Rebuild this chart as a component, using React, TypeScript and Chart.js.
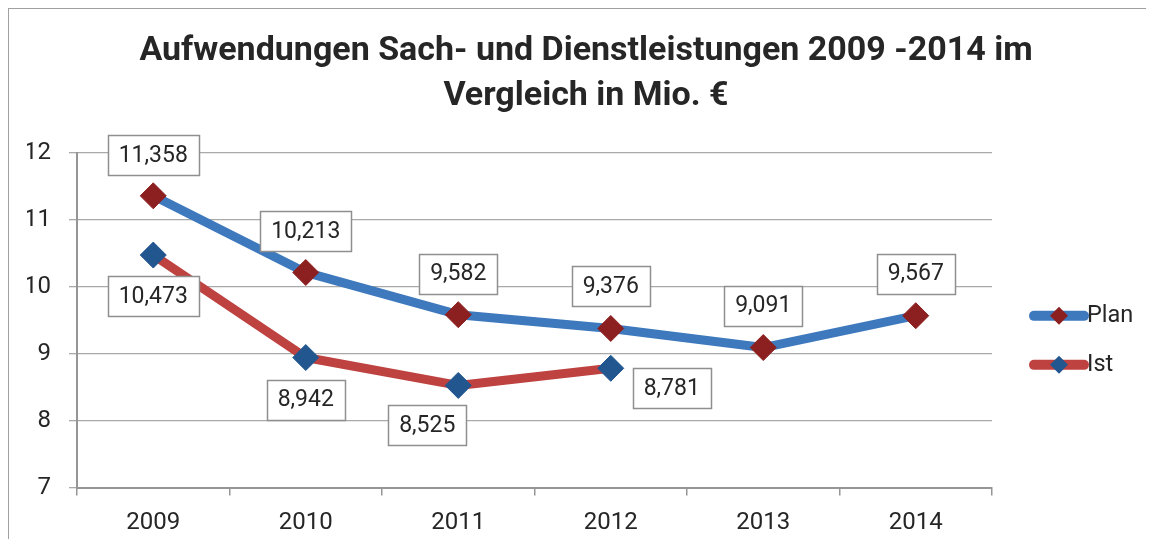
import React, { useEffect, useRef } from "react";
import { Chart, registerables } from "chart.js";

Chart.register(...registerables);

// ---- data ----
const categories = ["2009", "2010", "2011", "2012", "2013", "2014"];
const planValues = [11.358, 10.213, 9.582, 9.376, 9.091, 9.567];
const istValues: (number | null)[] = [10.473, 8.942, 8.525, 8.781, null, null];
const seriesNames = ["Plan", "Ist"];
const yMin = 7;
const yMax = 12;
const yStep = 1;
const titleLines = [
  "Aufwendungen Sach- und Dienstleistungen 2009 -2014 im",
  "Vergleich in Mio. €",
];

// ---- style ----
const FONT = "Roboto, 'Noto Sans', sans-serif";
const TEXT = "#262626";
const GRID = "#a9a9a9";
const AXIS = "#959595";
const PLAN_LINE = "#3e79be";
const PLAN_MARK = "#8c2020";
const IST_LINE = "#be4340";
const IST_MARK = "#22568f";
// label placement offsets (dx, dy) relative to the point
const planLabelOffsets = [[0, -41], [0, -41], [0, -41], [0, -42], [0, -42], [0, -42]];
const istLabelOffsets = [[0, 41], [0, 42], [-31, 40], [61, 20]];

const fmt = (v: number) => v.toFixed(3).replace(".", ",");

const boxLabels = {
  id: "boxLabels",
  afterDatasetsDraw(chart: any) {
    const ctx = chart.ctx as CanvasRenderingContext2D;
    ctx.save();
    ctx.font = `23px ${FONT}`;
    ctx.textAlign = "center";
    ctx.textBaseline = "middle";
    chart.data.datasets.forEach((ds: any, di: number) => {
      const meta = chart.getDatasetMeta(di);
      const offs = di === 0 ? planLabelOffsets : istLabelOffsets;
      meta.data.forEach((el: any, i: number) => {
        const v = ds.data[i];
        if (v == null || el.skip) return;
        const [dx, dy] = offs[i] || [0, di === 0 ? -41 : 41];
        const x = el.x + dx;
        const y = el.y + dy;
        const text = fmt(v);
        const w = Math.round(ctx.measureText(text).width + 22);
        const h = 40;
        const bx = Math.round(x - w / 2) + 0.5;
        const by = Math.round(y - h / 2) + 0.5;
        ctx.fillStyle = "#ffffff";
        ctx.fillRect(bx, by, w, h);
        ctx.strokeStyle = "#8f8f8f";
        ctx.lineWidth = 1.5;
        ctx.strokeRect(bx, by, w, h);
        ctx.fillStyle = TEXT;
        ctx.fillText(text, x, y + 1);
      });
    });
    ctx.restore();
  },
};

const sideLegend = {
  id: "sideLegend",
  afterLayout(chart: any) {
    const t = chart.titleBlock;
    if (t) {
      t.left = 18;
      t.right = chart.width;
      t.width = t.right - t.left;
    }
  },
  afterDraw(chart: any) {
    const ctx = chart.ctx as CanvasRenderingContext2D;
    const area = chart.chartArea;
    const x0 = area.right + 42;
    const x1 = area.right + 92;
    const ys = [area.top + 163, area.top + 212];
    ctx.save();
    chart.data.datasets.forEach((ds: any, i: number) => {
      const y = ys[i];
      ctx.strokeStyle = ds.borderColor;
      ctx.lineWidth = 10;
      ctx.lineCap = "round";
      ctx.beginPath();
      ctx.moveTo(x0, y);
      ctx.lineTo(x1, y);
      ctx.stroke();
      const cx = (x0 + x1) / 2;
      const r = 9;
      ctx.fillStyle = ds.pointBackgroundColor;
      ctx.beginPath();
      ctx.moveTo(cx - r, y);
      ctx.lineTo(cx, y - r);
      ctx.lineTo(cx + r, y);
      ctx.lineTo(cx, y + r);
      ctx.closePath();
      ctx.fill();
      ctx.fillStyle = TEXT;
      ctx.font = `23.5px ${FONT}`;
      ctx.textAlign = "left";
      ctx.textBaseline = "middle";
      ctx.fillText(ds.label, x1 + 3, y);
    });
    ctx.restore();
  },
};

export default function App() {
  const ref = useRef<HTMLCanvasElement>(null);
  useEffect(() => {
    if (!ref.current) return;
    const chart = new Chart(ref.current, {
      type: "line",
      data: {
        labels: categories,
        datasets: [
          {
            label: seriesNames[0],
            data: planValues,
            borderColor: PLAN_LINE,
            backgroundColor: PLAN_LINE,
            borderWidth: 9,
            borderCapStyle: "round",
            borderJoinStyle: "round",
            tension: 0,
            pointStyle: "rectRot",
            pointRadius: 13,
            pointBorderWidth: 1,
            pointBackgroundColor: PLAN_MARK,
            pointBorderColor: PLAN_MARK,
          },
          {
            label: seriesNames[1],
            data: istValues,
            borderColor: IST_LINE,
            backgroundColor: IST_LINE,
            borderWidth: 9,
            borderCapStyle: "round",
            borderJoinStyle: "round",
            tension: 0,
            spanGaps: false,
            pointStyle: "rectRot",
            pointRadius: 13,
            pointBorderWidth: 1,
            pointBackgroundColor: IST_MARK,
            pointBorderColor: IST_MARK,
          },
        ],
      },
      options: {
        responsive: false,
        animation: false,
        devicePixelRatio: 1,
        layout: { padding: { left: 18, right: 153, top: 0, bottom: 3 } },
        plugins: {
          legend: { display: false },
          tooltip: { enabled: false },
          title: {
            display: true,
            text: titleLines,
            color: TEXT,
            font: { family: FONT, size: 34, weight: "bold", lineHeight: 1.32 },
            padding: { top: 20.5, bottom: 33.6 },
          },
        },
        scales: {
          x: {
            offset: true,
            afterFit: (s: any) => {
              s.height = 48.5;
            },
            grid: {
              display: true,
              drawOnChartArea: false,
              drawTicks: true,
              tickLength: 8,
              offset: true,
              color: AXIS,
              lineWidth: 1.5,
            },
            border: { display: true, color: AXIS, width: 2 },
            ticks: { color: TEXT, font: { family: FONT, size: 24 }, padding: 13 },
          },
          y: {
            min: yMin,
            max: yMax,
            afterFit: (s: any) => {
              s.width = 50;
            },
            ticks: {
              stepSize: yStep,
              color: TEXT,
              font: { family: FONT, size: 24 },
              padding: 18,
            },
            grid: {
              color: GRID,
              lineWidth: 1.3,
              drawTicks: true,
              tickLength: 8,
            },
            border: { display: true, color: AXIS, width: 2 },
          },
        },
      },
      plugins: [boxLabels, sideLegend],
    } as any);
    return () => chart.destroy();
  }, []);

  return (
    <div
      style={{
        borderTop: "1px solid #a0a0a0",
        borderLeft: "1px solid #a0a0a0",
        boxShadow: "0 -4px 6px -3px #d8d8d8",
        fontFamily: FONT,
      }}
    >
      <canvas ref={ref} width={1136} height={530} style={{ display: "block" }} />
    </div>
  );
}
